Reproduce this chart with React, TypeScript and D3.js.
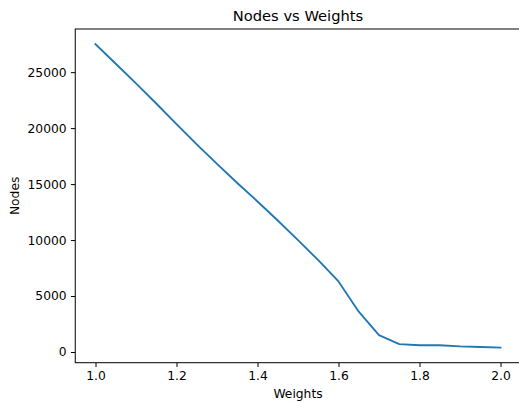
import React, { useEffect, useRef } from "react";
import * as d3 from "d3";

// weights on the x axis, node counts
const weights = [1.0, 1.05, 1.1, 1.15, 1.2, 1.25, 1.3, 1.35, 1.4, 1.45, 1.5, 1.55, 1.6, 1.65, 1.7, 1.75, 1.8, 1.85, 1.9, 1.95, 2.0];
const nodes = [27500, 25750, 24000, 22200, 20350, 18550, 16800, 15100, 13450, 11750, 10000, 8200, 6300, 3600, 1500, 700, 600, 600, 500, 450, 400];
const xTicks = [1.0, 1.2, 1.4, 1.6, 1.8, 2.0];
const yTicks = [0, 5000, 10000, 15000, 20000, 25000];

const W = 519;
const H = 403;
const FONT = "DejaVu Sans, sans-serif";

const App = () => {
  const ref = useRef<SVGSVGElement>(null);

  useEffect(() => {
    const svg = d3.select(ref.current);
    svg.selectAll("*").remove();

    const left = 75.25, right = 520.75, top = 29, bottom = 362.7;

    // matplotlib style 5% margins
    const xMin = d3.min(weights)!, xMax = d3.max(weights)!;
    const yMin = d3.min(nodes)!, yMax = d3.max(nodes)!;
    const xPad = (xMax - xMin) * 0.05;
    const yPad = (yMax - yMin) * 0.05;

    const x = d3.scaleLinear().domain([xMin - xPad, xMax + xPad]).range([left, right]);
    const y = d3.scaleLinear().domain([yMin - yPad, yMax + yPad]).range([bottom, top]);

    const line = d3.line<number>()
      .x((_, i) => x(weights[i]))
      .y(d => y(d));

    svg.append("path")
      .datum(nodes)
      .attr("d", line)
      .attr("fill", "none")
      .attr("stroke", "#1f77b4")
      .attr("stroke-width", 1.85)
      .attr("stroke-linejoin", "round")
      .attr("stroke-linecap", "square");

    // frame
    svg.append("rect")
      .attr("x", left)
      .attr("y", top)
      .attr("width", right - left)
      .attr("height", bottom - top)
      .attr("fill", "none")
      .attr("stroke", "#000")
      .attr("stroke-width", 1);

    const xAxis = svg.append("g")
      .attr("transform", `translate(0,${bottom})`)
      .call(d3.axisBottom(x).tickValues(xTicks).tickFormat(d3.format(".1f")).tickSize(4.3).tickPadding(4.3));
    const yAxis = svg.append("g")
      .attr("transform", `translate(${left},0)`)
      .call(d3.axisLeft(y).tickValues(yTicks).tickFormat(d3.format("d")).tickSize(4.3).tickPadding(4.3));

    [xAxis, yAxis].forEach(g => {
      g.select(".domain").remove();
      g.selectAll(".tick line").attr("stroke", "#000").attr("stroke-width", 1);
      g.selectAll(".tick text")
        .attr("fill", "#000")
        .style("font-family", FONT)
        .style("font-size", "12.3px");
    });

    svg.append("text")
      .attr("x", (left + right) / 2)
      .attr("y", 21)
      .attr("text-anchor", "middle")
      .style("font-family", FONT)
      .style("font-size", "14.7px")
      .text("Nodes vs Weights");

    svg.append("text")
      .attr("x", (left + right) / 2)
      .attr("y", 398)
      .attr("text-anchor", "middle")
      .style("font-family", FONT)
      .style("font-size", "12.3px")
      .text("Weights");

    svg.append("text")
      .attr("transform", `translate(19,${(top + bottom) / 2}) rotate(-90)`)
      .attr("text-anchor", "middle")
      .style("font-family", FONT)
      .style("font-size", "12.3px")
      .text("Nodes");
  }, []);

  return (
    <svg
      ref={ref}
      width={W}
      height={H}
      style={{ position: "absolute", left: 0, top: 0, background: "#fff" }}
    />
  );
};

export default App;
